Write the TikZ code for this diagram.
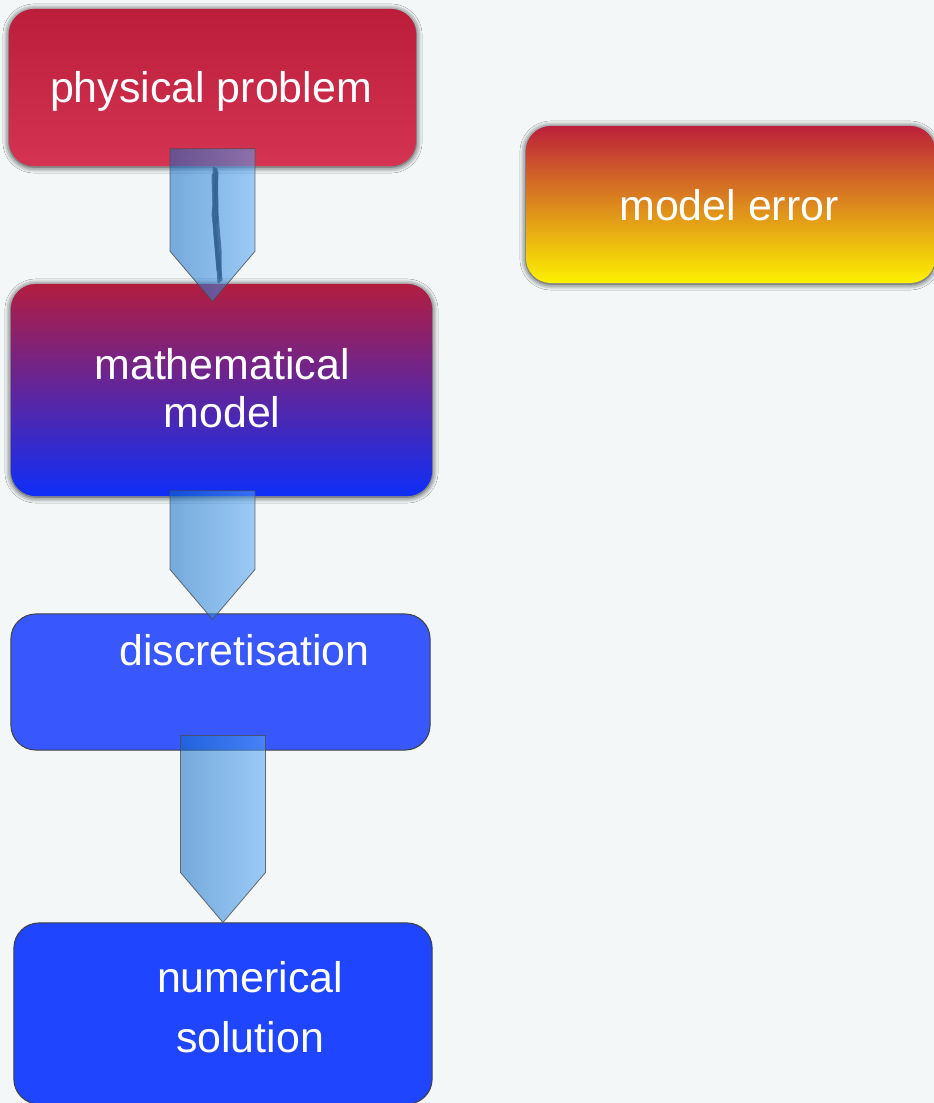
\documentclass[tikz,border=0pt]{standalone}
\usepackage{fontspec}
\setmainfont{Liberation Sans}
\usetikzlibrary{positioning,calc,shadows.blur}

\definecolor{bgpage}{RGB}{243,247,248}
\definecolor{physA}{RGB}{187,29,59}
\definecolor{physB}{RGB}{212,52,82}
\definecolor{mathA}{RGB}{178,29,64}
\definecolor{mathB}{RGB}{14,46,248}
\definecolor{errA}{RGB}{188,31,58}
\definecolor{errB}{RGB}{222,140,30}
\definecolor{errC}{RGB}{253,242,0}
\definecolor{discblue}{RGB}{56,88,253}
\definecolor{numblue}{RGB}{31,69,254}
\definecolor{arrL}{RGB}{16,107,197}
\definecolor{arrR}{RGB}{84,165,244}
\definecolor{inkblue}{RGB}{52,98,145}

\begin{document}
\begin{tikzpicture}[
  x=0.01cm, y=-0.01cm,
  box/.style={rectangle, rounded corners=0.25cm, inner sep=0pt},
  shadowed/.style={blur shadow={shadow xshift=0pt, shadow yshift=-0.01cm,
      shadow blur radius=0.06cm, shadow opacity=90}},
  flatbox/.style={box, draw=black!75, line width=0.01cm},
  txt/.style={text=white, inner sep=0pt, align=center,
      font=\fontsize{12.2pt}{13.6pt}\selectfont},
  flowarr/.style={left color=arrL, right color=arrR, fill opacity=0.55,
      draw=black!70, draw opacity=0.8, line width=0.008cm},
  scrib/.style={draw=inkblue, line width=0.03cm, line cap=round, opacity=0.8}
]

\useasboundingbox (0,0) rectangle (934,1103);
\fill[bgpage] (0,0) rectangle (934,1103);

% boxes
\node[box, shadowed, top color=physA, bottom color=physB,
      minimum width=4.07cm, minimum height=1.57cm] (phys) at (212.5,87.5) {};
\node[box, shadowed, top color=mathA, bottom color=mathB,
      minimum width=4.21cm, minimum height=2.12cm] (math) at (221.5,390) {};
\node[flatbox, fill=discblue,
      minimum width=4.19cm, minimum height=1.36cm] (disc) at (220.5,682) {};
\node[flatbox, fill=numblue,
      minimum width=4.18cm, minimum height=1.81cm] (num) at (223,1013.5) {};
\node[box, shadowed, top color=errA, middle color=errB, bottom color=errC,
      minimum width=4.09cm, minimum height=1.57cm] (err) at (730.5,204.5) {};

% block arrows between the boxes
\coordinate (a1top) at ($(phys.south)+(0,-18)$);
\coordinate (a1tip) at ($(phys.south |- math.north)+(0,18)$);
\coordinate (a2top) at ($(phys.south |- math.south)+(0,-6)$);
\coordinate (a2tip) at ($(phys.south |- disc.north)+(0,6)$);
\coordinate (a3top) at ($(num.north |- disc.south)+(0,-15)$);
\coordinate (a3tip) at (num.north);

\path[flowarr] ($(a1top)+(-42.5,0)$) -- ($(a1top)+(42.5,0)$) -- ($(a1tip)+(42.5,-50)$)
  -- (a1tip) -- ($(a1tip)+(-42.5,-50)$) -- cycle;
\path[flowarr] ($(a2top)+(-42.5,0)$) -- ($(a2top)+(42.5,0)$) -- ($(a2tip)+(42.5,-50)$)
  -- (a2tip) -- ($(a2tip)+(-42.5,-50)$) -- cycle;
\path[flowarr] ($(a3top)+(-42.5,0)$) -- ($(a3top)+(42.5,0)$) -- ($(a3tip)+(42.5,-50)$)
  -- (a3tip) -- ($(a3tip)+(-42.5,-50)$) -- cycle;

% pen stroke on the first arrow
\draw[scrib] (214,168) -- (215,198) -- (213,214) -- (216,242) -- (219,282);
\draw[scrib] (216,169) -- (217,204) -- (216,230) -- (219,262) -- (221,280);
\draw[scrib] (213,175) -- (214,210) -- (215,236) -- (218,270);
\draw[scrib] (217,172) -- (216,200) -- (218,226) -- (220,250) -- (220,276);

% labels (base = baseline of the last line)
\node[txt, anchor=base] (phys-t) at (211,102) {physical problem};
\node[txt, anchor=base] (math-t) at (222,427) {mathematical\\model};
\node[txt, anchor=base] (disc-t) at (244.5,665) {discretisation};
\node[txt, anchor=base, font=\fontsize{12.2pt}{16.8pt}\selectfont]
  (num-t) at (250,1052) {numerical\\solution};
\node[txt, anchor=base] (err-t) at (729,220) {model error};

\end{tikzpicture}
\end{document}
